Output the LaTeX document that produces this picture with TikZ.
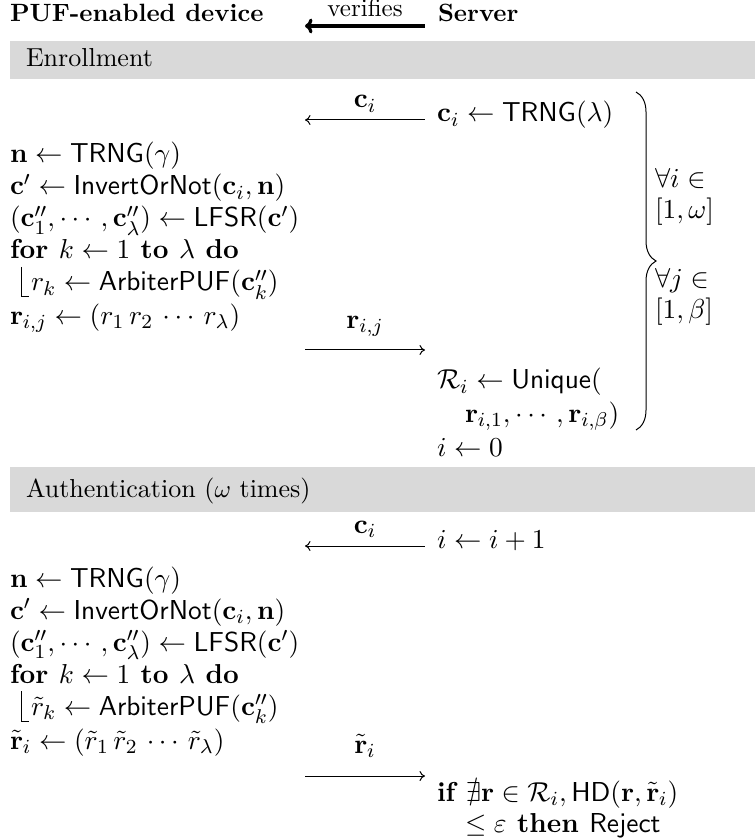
\documentclass[tikz,border=0pt]{standalone}
\usepackage{amsmath,amssymb}
\usetikzlibrary{arrows.meta,decorations.pathreplacing}
\begin{document}
\begin{tikzpicture}[x=0.4pt,y=-0.4pt,
  txt/.style={anchor=base west,inner sep=0pt,outer sep=0pt,font=\fontsize{10.95}{13}\selectfont},
  lbl/.style={anchor=base,inner sep=0pt,outer sep=0pt,font=\fontsize{10.95}{13}\selectfont},
  head/.style={anchor=base west,inner sep=0pt,outer sep=0pt,font=\fontsize{10.4}{13}\selectfont},
  ttl/.style={anchor=base west,inner sep=0pt,outer sep=0pt,font=\fontsize{10}{12}\selectfont\bfseries},
  bar/.style={fill=black!15,draw=none},
  msgl/.style={{To[length=2.2pt,width=4pt]}-,line width=0.4pt},
  msgr/.style={-{To[length=2.2pt,width=4pt]},line width=0.4pt},
  bigarr/.style={{To[length=3pt,width=6pt]}-,line width=1.3pt},
  loopline/.style={line width=0.4pt},
  bracestyle/.style={decorate,decoration={brace,amplitude=8},line width=0.4pt}
]
\useasboundingbox (0,0) rectangle (755,838);
% title
\node[ttl] (dev) at (10,22) {PUF-enabled device};
\node[ttl] (srv) at (438,22) {Server};
\coordinate (ta) at (425,26);
\coordinate (tb) at (305,26);
\draw[bigarr] (tb) -- (ta);
\node[anchor=base,inner sep=0pt,font=\fontsize{10}{12}\selectfont] (verif) at (365,17) {verifies};
% enrollment bar
\fill[bar] (10,41) rectangle (755,79);
\node[head] (enr) at (26,67) {Enrollment};
% enrollment
\node[lbl] (lci) at (365,108) {$\mathbf{c}_i$};
\coordinate (a1s) at (425,120);
\coordinate (a1e) at (305,120);
\draw[msgl] (a1e) -- (a1s);
\node[txt] (sc) at (437,122) {$\mathbf{c}_i \leftarrow \mathsf{TRNG}(\lambda)$};
\node[txt] (e1) at (10,163) {$\mathbf{n} \leftarrow \mathsf{TRNG}(\gamma)$};
\node[txt] (e2) at (10,195) {$\mathbf{c}' \leftarrow \mathsf{InvertOrNot}(\mathbf{c}_i, \mathbf{n})$};
\node[txt] (e3) at (10,227) {$(\mathbf{c}''_1, \cdots, \mathbf{c}''_\lambda) \leftarrow \mathsf{LFSR}(\mathbf{c}')$};
\node[txt] (e4) at (10,259) {$\textbf{for } k \leftarrow 1 \textbf{ to } \lambda \textbf{ do}$};
\node[txt] (e5) at (31,291) {$r_k \leftarrow \mathsf{ArbiterPUF}(\mathbf{c}''_k)$};
\coordinate (v1a) at (21,267);
\coordinate (v1b) at (21,297);
\coordinate (v1c) at (29,297);
\draw[loopline] (v1a) -- (v1b) -- (v1c);
\node[txt] (e6) at (10,324) {$\mathbf{r}_{i,j} \leftarrow (r_1\, r_2\, \cdots\, r_\lambda)$};
\node[lbl] (lrij) at (365,328) {$\mathbf{r}_{i,j}$};
\coordinate (a2s) at (305,350);
\coordinate (a2e) at (425,350);
\draw[msgr] (a2s) -- (a2e);
\node[txt] (s2) at (437,389) {$\mathcal{R}_i \leftarrow \mathsf{Unique}($};
\node[txt] (s3) at (465,422) {$\mathbf{r}_{i,1}, \cdots, \mathbf{r}_{i,\beta})$};
\node[txt] (s4) at (437,456) {$i \leftarrow 0$};
% brace
\coordinate (bt) at (636,92);
\coordinate (bb) at (636,430);
\draw[bracestyle] (bt) -- (bb);
\node[txt] (fa1) at (655,188) {$\forall i \in$};
\node[txt] (fa2) at (655,219) {$[1, \omega]$};
\node[txt] (fb1) at (655,288) {$\forall j \in$};
\node[txt] (fb2) at (655,319) {$[1, \beta]$};
% authentication bar
\fill[bar] (10,467) rectangle (755,512);
\node[head] (aut) at (26,497) {Authentication ($\omega$ times)};
\node[lbl] (lci2) at (365,533) {$\mathbf{c}_i$};
\coordinate (a3s) at (425,546);
\coordinate (a3e) at (305,546);
\draw[msgl] (a3e) -- (a3s);
\node[txt] (t1) at (437,548) {$i \leftarrow i + 1$};
\node[txt] (f1) at (10,587) {$\mathbf{n} \leftarrow \mathsf{TRNG}(\gamma)$};
\node[txt] (f2) at (10,619) {$\mathbf{c}' \leftarrow \mathsf{InvertOrNot}(\mathbf{c}_i, \mathbf{n})$};
\node[txt] (f3) at (10,651) {$(\mathbf{c}''_1, \cdots, \mathbf{c}''_\lambda) \leftarrow \mathsf{LFSR}(\mathbf{c}')$};
\node[txt] (f4) at (10,683) {$\textbf{for } k \leftarrow 1 \textbf{ to } \lambda \textbf{ do}$};
\node[txt] (f5) at (31,715) {$\tilde{r}_k \leftarrow \mathsf{ArbiterPUF}(\mathbf{c}''_k)$};
\coordinate (v2a) at (21,691);
\coordinate (v2b) at (21,721);
\coordinate (v2c) at (29,721);
\draw[loopline] (v2a) -- (v2b) -- (v2c);
\node[txt] (f6) at (10,749) {$\tilde{\mathbf{r}}_i \leftarrow (\tilde{r}_1\, \tilde{r}_2\, \cdots\, \tilde{r}_\lambda)$};
\node[lbl] (lri) at (365,753) {$\tilde{\mathbf{r}}_i$};
\coordinate (a4s) at (305,776);
\coordinate (a4e) at (425,776);
\draw[msgr] (a4s) -- (a4e);
\node[txt] (t2) at (437,801) {$\textbf{if } \nexists \mathbf{r} \in \mathcal{R}_i, \mathsf{HD}(\mathbf{r}, \tilde{\mathbf{r}}_i)$};
\node[txt] (t3) at (465,832) {$\leq \varepsilon \textbf{ then } \mathsf{Reject}$};
\end{tikzpicture}
\end{document}
